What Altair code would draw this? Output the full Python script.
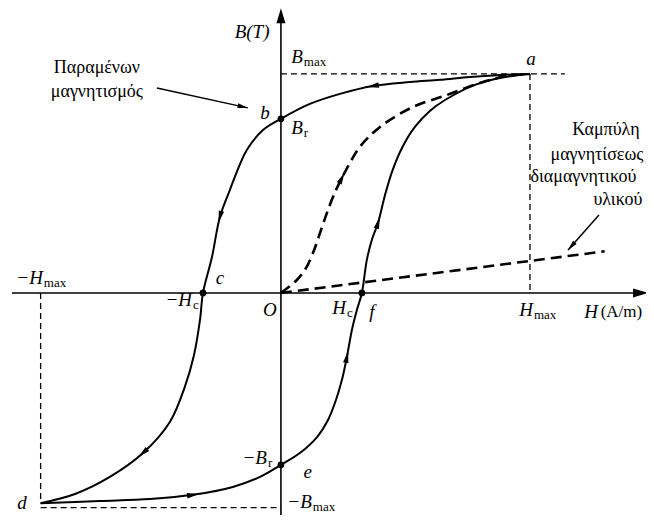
import math
import altair as alt
import pandas as pd

# ---- data (H in % of H_max, B in % of B_max) ----
# descending branch a -> b -> c -> d
desc_H = [100, 88.0, 75.9, 63.9, 51.8, 36.9, 23.7, 11.6, 0, -7.2, -13.7, -17.7, -20.5,
          -24.5, -27.7, -31.3, -32.5, -34.9, -38.6, -44.6, -55.4, -68.7, -82.7, -96.5]
desc_B = [100, 99.5, 98.6, 97.3, 96.3, 94.5, 90.9, 86.3, 79.5, 74.4, 65.3, 55.3, 47.0,
          34.7, 16.4, 0, -12.3, -28.3, -42.9, -58.9, -73.1, -84.0, -91.8, -96]
# ascending branch d -> e -> f -> a
asc_H = [-96.5, -72.7, -52.6, -35.3, -19.3, -8.4, 0, 7.6, 14.5, 18.9, 22.1, 24.5, 26.5, 28.5,
         30.5, 32.5, 34.5, 36.5, 39.0, 41.8, 44.6, 48.6, 53.8, 59.8, 65.9, 77.9, 90.0, 100]
asc_B = [-96, -95.0, -94.1, -92.2, -88.6, -84.0, -78.5, -73.1, -65.8, -58.0, -48.9, -39.7, -29.2,
         -16.9, -7.8, 0, 15.1, 24.2, 32.0, 44.7, 55.3, 66.2, 75.8, 83.1, 88.1, 95.0, 98.6, 100]
# initial magnetisation curve O -> a
init_H = [0, 5.6, 9.6, 12.9, 15.7, 18.9, 22.1, 24.5, 27.7, 31.7, 39.8, 53.0, 66.7, 79.9, 90.8, 100]
init_B = [0, 5.0, 10.5, 18.3, 27.4, 37.9, 47.0, 52.5, 59.4, 66.7, 75.8, 84.9, 90.4, 95.9, 99.1, 100]
# diamagnetic material line
dia_H = [0, 130]
dia_B = [0, 19]
# arrow positions (indices along the curves)
desc_arrow_idx = [5, 13, 20]
asc_arrow_idx = [3, 12, 18]
init_arrow_idx = [7]
# marked points b, c, e, f
dot_H = [0, -31.3, 0, 32.5]
dot_B = [79.5, 0, -78.5, 0]
# reference (thin dashed) lines: (H1, B1, H2, B2)
ref_lines = [(0, 100, 114, 100), (100, 100, 100, 0), (-96.5, 0, -96.5, -96), (-96.5, -98, 0, -98)]
# axes
x_axis = (-108, 0, 143, 0)
y_axis = (0, -101.4, 0, 125)
x_tip = (147.4, 0)
y_tip = (0, 130.0)
# letters
pt_text = ["a", "b", "c", "d", "e", "f", "O", "B(T)"]
pt_H = [100.4, -6.4, -24.5, -104, 10.8, 36.5, -4.4, -11.6]
pt_B = [106.8, 82.2, 6.8, -95.9, -81.7, -8.7, -7.8, 119.2]
# symbols with subscripts
sym_main = ["B", "B", "\u2212H", "\u2212H", "H", "H", "\u2212B", "\u2212B", "H"]
sym_sub = ["max", "r", "c", "max", "c", "max", "r", "max", ""]
sym_H = [8.8, 8.8, -35.7, -95.6, 26.1, 101.2, -5.6, 12.4, 127.3]
sym_B = [107.8, 75.3, -3.2, 6.8, -6.8, -7.8, -75.3, -95.6, -8.7]
unit_text = ["(A/m)"]
unit_H = [128.4]
unit_B = [-8.7]
# greek notes
note_text = ["\u03a0\u03b1\u03c1\u03b1\u03bc\u03ad\u03bd\u03c9\u03bd",
             "\u03bc\u03b1\u03b3\u03bd\u03b7\u03c4\u03b9\u03c3\u03bc\u03cc\u03c2",
             "\u039a\u03b1\u03bc\u03c0\u03cd\u03bb\u03b7",
             "\u03bc\u03b1\u03b3\u03bd\u03b7\u03c4\u03af\u03c3\u03b5\u03c9\u03c2",
             "\u03b4\u03b9\u03b1\u03bc\u03b1\u03b3\u03bd\u03b7\u03c4\u03b9\u03ba\u03bf\u03cd",
             "\u03c5\u03bb\u03b9\u03ba\u03bf\u03cd"]
note_H = [-73.9, -73.9, 130.5, 126.9, 121.5, 135.3]
note_B = [102.7, 91.8, 74.4, 63.0, 53.0, 42.5]
# pointer arrows (from, to)
pointers = [(-49.8, 93.6, -13.3, 84.5), (127.7, 35.6, 115.3, 19.6)]

# ---- geometry helpers ----
X_DOMAIN = [-109.6, 146.6]
Y_DOMAIN = [-101.4, 130.1]
W, HT = 638, 507
KX = W / (X_DOMAIN[1] - X_DOMAIN[0])
KY = HT / (Y_DOMAIN[1] - Y_DOMAIN[0])


def ang(dh, db):
    sx, sy = dh * KX, -db * KY
    return math.degrees(math.atan2(sx, -sy)) % 360


def back(h, b, dh, db, px):
    sx, sy = dh * KX, db * KY
    n = math.hypot(sx, sy)
    return h - sx / n * px / KX, b - sy / n * px / KY


def curve_df(name, hs, bs):
    return pd.DataFrame({"H": hs, "B": bs, "series": name, "i": range(len(hs))})


loop_df = pd.concat([curve_df("desc", desc_H, desc_B), curve_df("asc", asc_H, asc_B)])
dash_df = pd.concat([curve_df("init", init_H, init_B), curve_df("dia", dia_H, dia_B)])


def seg_df(segs, prefix):
    rows = []
    for k, (h1, b1, h2, b2) in enumerate(segs):
        rows.append({"H": h1, "B": b1, "series": f"{prefix}{k}", "i": 0})
        rows.append({"H": h2, "B": b2, "series": f"{prefix}{k}", "i": 1})
    return pd.DataFrame(rows)


ref_df = seg_df(ref_lines, "r")
axis_df = seg_df([x_axis, y_axis], "ax")
ptr_df = seg_df(pointers, "p")

heads = []
for hs, bs, idxs in [(desc_H, desc_B, desc_arrow_idx), (asc_H, asc_B, asc_arrow_idx),
                     (init_H, init_B, init_arrow_idx)]:
    for i in idxs:
        heads.append({"H": hs[i], "B": bs[i], "ang": ang(hs[i + 1] - hs[i - 1], bs[i + 1] - bs[i - 1])})
heads_df = pd.DataFrame(heads)

ptr_heads = []
for h1, b1, h2, b2 in pointers:
    hh, bb = back(h2, b2, h2 - h1, b2 - b1, 5)
    ptr_heads.append({"H": hh, "B": bb, "ang": ang(h2 - h1, b2 - b1)})
ptr_heads_df = pd.DataFrame(ptr_heads)

tips = []
for (th, tb), (dh, db) in [(x_tip, (1, 0)), (y_tip, (0, 1))]:
    hh, bb = back(th, tb, dh, db, 7.5)
    tips.append({"H": hh, "B": bb, "ang": ang(dh, db)})
tips_df = pd.DataFrame(tips)

dots_df = pd.DataFrame({"H": dot_H, "B": dot_B})
pt_df = pd.DataFrame({"H": pt_H, "B": pt_B, "t": pt_text})
sym_df = pd.DataFrame({"H": sym_H, "B": sym_B, "t": sym_main, "s": sym_sub})
unit_df = pd.DataFrame({"H": unit_H, "B": unit_B, "t": unit_text})
note_df = pd.DataFrame({"H": note_H, "B": note_B, "t": note_text})

X = alt.X("H:Q", scale=alt.Scale(domain=X_DOMAIN, nice=False, zero=False), axis=None)
Y = alt.Y("B:Q", scale=alt.Scale(domain=Y_DOMAIN, nice=False, zero=False), axis=None)
FONT = "Liberation Serif"
ARROW = "M0,-1L0.45,1L-0.45,1Z"
TIP = "M0,-1L0.6,1L-0.6,1Z"

layers = [
    alt.Chart(axis_df).mark_line(color="black", strokeWidth=1.6).encode(
        x=X, y=Y, detail="series:N", order="i:Q"),
    alt.Chart(ref_df).mark_line(color="black", strokeWidth=1.3, strokeDash=[6, 4]).encode(
        x=X, y=Y, detail="series:N", order="i:Q"),
    alt.Chart(dash_df).mark_line(color="black", strokeWidth=2.6, strokeDash=[11, 6],
                                 interpolate="catmull-rom").encode(
        x=X, y=Y, detail="series:N", order="i:Q"),
    alt.Chart(loop_df).mark_line(color="black", strokeWidth=2, interpolate="catmull-rom").encode(
        x=X, y=Y, detail="series:N", order="i:Q"),
    alt.Chart(ptr_df).mark_line(color="black", strokeWidth=1.5).encode(
        x=X, y=Y, detail="series:N", order="i:Q"),
    alt.Chart(heads_df).mark_point(shape=ARROW, filled=True, color="black", size=144, opacity=1,
                                   strokeWidth=0).encode(
        x=X, y=Y, angle=alt.Angle("ang:Q", scale=None)),
    alt.Chart(ptr_heads_df).mark_point(shape=ARROW, filled=True, color="black", size=110, opacity=1,
                                       strokeWidth=0).encode(
        x=X, y=Y, angle=alt.Angle("ang:Q", scale=None)),
    alt.Chart(tips_df).mark_point(shape=TIP, filled=True, color="black", size=225, opacity=1,
                                  strokeWidth=0).encode(
        x=X, y=Y, angle=alt.Angle("ang:Q", scale=None)),
    alt.Chart(dots_df).mark_circle(color="black", size=45, opacity=1).encode(x=X, y=Y),
    alt.Chart(pt_df).mark_text(font=FONT, fontSize=19, fontStyle="italic", align="center",
                               baseline="middle", color="black").encode(x=X, y=Y, text="t:N"),
    alt.Chart(sym_df).mark_text(font=FONT, fontSize=19, fontStyle="italic", align="right",
                                baseline="middle", color="black").encode(x=X, y=Y, text="t:N"),
    alt.Chart(sym_df).mark_text(font=FONT, fontSize=13, align="left", baseline="middle", dx=1, dy=5,
                                color="black").encode(x=X, y=Y, text="s:N"),
    alt.Chart(unit_df).mark_text(font=FONT, fontSize=17, align="left", baseline="middle",
                                 color="black").encode(x=X, y=Y, text="t:N"),
    alt.Chart(note_df).mark_text(font=FONT, fontSize=18, align="center", baseline="middle",
                                 color="black").encode(x=X, y=Y, text="t:N"),
]

chart = alt.layer(*layers).properties(
    width=W, height=HT, padding=0, background="white", autosize="none",
).configure_view(stroke=None)

chart.save("out.html", embed_options={"renderer": "svg", "actions": False})
